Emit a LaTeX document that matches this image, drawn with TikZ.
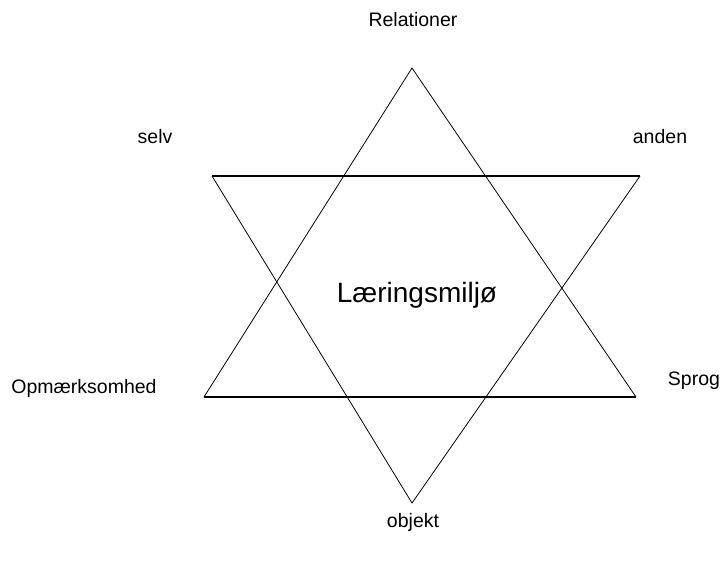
\documentclass[tikz,border=0pt]{standalone}
\usepackage{fontspec}
\setmainfont{Liberation Sans}
\begin{document}
\begin{tikzpicture}[x=1pt,y=-1pt,
  lbl/.style={inner sep=0pt,font=\fontsize{19.5}{23}\selectfont},
  diag/.style={line width=0.8pt},
  horiz/.style={line width=1.4pt}]
\useasboundingbox[fill=white] (0,0) rectangle (723,565);
% triangle corners
\coordinate (ua) at (412,68);
\coordinate (ul) at (204,397);
\coordinate (ur) at (636,397);
\coordinate (dl) at (212,176);
\coordinate (dr) at (640,176);
\coordinate (da) at (412,503);
\draw[diag] (ul) -- (ua) -- (ur);
\draw[horiz] (ul) -- (ur);
\draw[diag] (dl) -- (da) -- (dr);
\draw[horiz] (dl) -- (dr);
% labels
\node[lbl] (rel) at (413,20) {Relationer};
\node[lbl] (selv) at (155,137) {selv};
\node[lbl] (anden) at (660,137) {anden};
\node[lbl] (opm) at (84,388) {Opmærksomhed};
\node[lbl] (sprog) at (694,381) {Sprog};
\node[lbl] (obj) at (413,522) {objekt};
\node[inner sep=0pt,font=\fontsize{28}{32}\selectfont] (lm) at (417,295) {Læringsmiljø};
\end{tikzpicture}
\end{document}
